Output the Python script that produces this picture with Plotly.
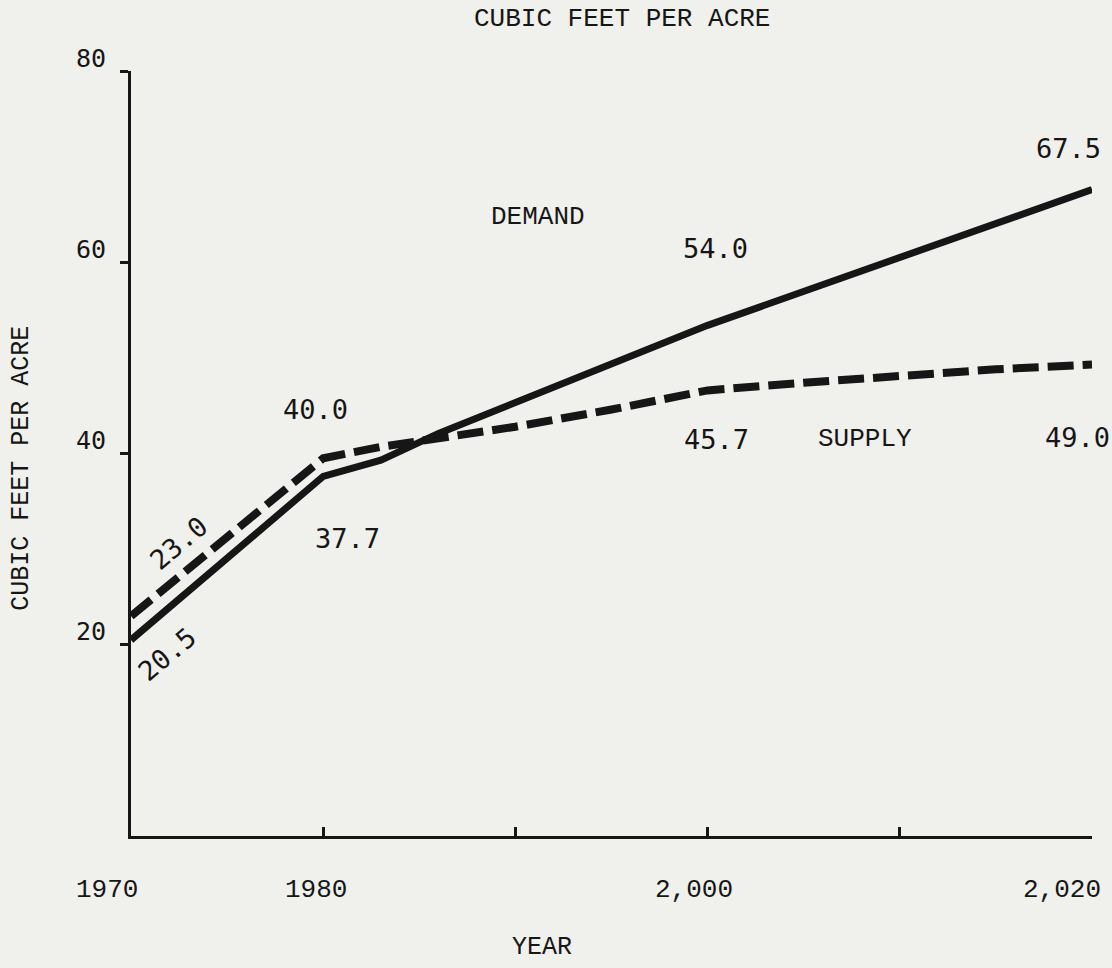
import plotly.graph_objects as go

# ---- data ----
years_demand = [1970, 1980, 1983, 1986, 2000, 2020]
demand = [20.5, 37.6, 39.3, 42.1, 53.4, 67.6]

years_supply = [1970, 1980, 1983, 1986, 1990, 1995, 2000, 2005, 2010, 2015, 2020]
supply = [23.0, 39.5, 40.7, 41.6, 42.8, 44.6, 46.6, 47.4, 48.2, 48.8, 49.3]

# value labels printed on the chart
demand_label_years = [1970, 1980, 2000, 2020]
demand_label_vals = [20.5, 37.7, 54.0, 67.5]
supply_label_years = [1970, 1980, 2000, 2020]
supply_label_vals = [23.0, 40.0, 45.7, 49.0]

x_tick_vals = [1970, 1980, 1990, 2000, 2010, 2020]
x_label_years = [1970, 1980, 2000, 2020]
x_label_text = ["1970", "1980", "2,000", "2,020"]
y_tick_vals = [20, 40, 60, 80]
y_tick_text = ["20", "40", "60", "80"]

# ---- styles ----
INK = "#161616"
PAPER = "#f0f0ec"
TYPE = "Liberation Mono"
NUM = "DejaVu Sans Mono"

demand_offsets = [(36, -15, -40), (24, -63, 0), (8, 71, 0), (-24, 42, 0)]
supply_offsets = [(47, 73, -40), (-8, 44, 0), (9, -41, 0), (-15, -70, 0)]
x_label_shift = [-24, -7, -14, -30]

fig = go.Figure()
fig.add_trace(go.Scatter(x=years_demand, y=demand, mode="lines", name="DEMAND",
                         line=dict(color=INK, width=7), showlegend=False,
                         hoverinfo="skip"))
fig.add_trace(go.Scatter(x=years_supply, y=supply, mode="lines", name="SUPPLY",
                         line=dict(color=INK, width=8, dash="26px,9px"),
                         showlegend=False, hoverinfo="skip"))

ann = []
for yr, v, (dx, dy, ang) in zip(demand_label_years, demand_label_vals, demand_offsets):
    ann.append(dict(x=yr, y=v, xref="x", yref="y", text=f"{v:.1f}", showarrow=False,
                    xshift=dx, yshift=dy, textangle=ang,
                    font=dict(family=NUM, size=27, color=INK)))
for yr, v, (dx, dy, ang) in zip(supply_label_years, supply_label_vals, supply_offsets):
    ann.append(dict(x=yr, y=v, xref="x", yref="y", text=f"{v:.1f}", showarrow=False,
                    xshift=dx, yshift=dy, textangle=ang,
                    font=dict(family=NUM, size=27, color=INK)))

# series names
ann.append(dict(x=1991.2, y=64.7, xref="x", yref="y", text="DEMAND", showarrow=False,
                font=dict(family=TYPE, size=26, color=INK)))
ann.append(dict(x=2008.2, y=41.5, xref="x", yref="y", text="SUPPLY", showarrow=False,
                font=dict(family=TYPE, size=26, color=INK)))

# x tick labels
for yr, t, dx in zip(x_label_years, x_label_text, x_label_shift):
    ann.append(dict(x=yr, y=0, xref="x", yref="y", text=t, showarrow=False,
                    xshift=dx, yshift=-54, yanchor="middle",
                    font=dict(family=TYPE, size=26, color=INK)))
# y tick labels
for v, t in zip(y_tick_vals, y_tick_text):
    ann.append(dict(x=0, y=v, xref="paper", yref="y", text=t, showarrow=False,
                    xanchor="right", yanchor="middle", xshift=-23, yshift=13,
                    font=dict(family=NUM, size=25, color=INK)))

# titles
ann.append(dict(x=0.511, y=1.068, xref="paper", yref="paper", text="CUBIC FEET PER ACRE",
                xanchor="center", yanchor="middle",
                showarrow=False, font=dict(family=TYPE, size=26, color=INK)))
ann.append(dict(x=-0.1134, y=0.480, xref="paper", yref="paper", text="CUBIC FEET PER ACRE",
                xanchor="center", yanchor="middle",
                showarrow=False, textangle=-90, font=dict(family=TYPE, size=25, color=INK)))
ann.append(dict(x=0.4277, y=-0.1464, xref="paper", yref="paper", text="YEAR",
                xanchor="center", yanchor="middle",
                showarrow=False, font=dict(family=TYPE, size=25, color=INK)))

fig.update_layout(
    width=1112, height=968,
    margin=dict(l=131, r=20, t=71, b=132),
    paper_bgcolor=PAPER, plot_bgcolor=PAPER,
    showlegend=False,
    annotations=ann,
    xaxis=dict(range=[1970, 2020], showline=True, linecolor=INK, linewidth=3,
               ticks="inside", ticklen=9, tickwidth=3, tickcolor=INK,
               tickvals=x_tick_vals, showticklabels=False,
               showgrid=False, zeroline=False, fixedrange=True),
    yaxis=dict(range=[0, 80], showline=True, linecolor=INK, linewidth=3,
               ticks="outside", ticklen=8, tickwidth=3, tickcolor=INK,
               tickvals=y_tick_vals, showticklabels=False,
               showgrid=False, zeroline=False, fixedrange=True),
    yaxis2=dict(range=[0, 80], overlaying="y", side="left", showline=False,
                ticks="inside", ticklen=8, tickwidth=3, tickcolor=INK,
                tickvals=y_tick_vals, showticklabels=False,
                showgrid=False, zeroline=False, fixedrange=True),
)

fig.write_html(
    "out.html",
    config={"displayModeBar": False},
    post_script="document.body.style.margin='0';document.body.style.background='#f0f0ec';",
)
